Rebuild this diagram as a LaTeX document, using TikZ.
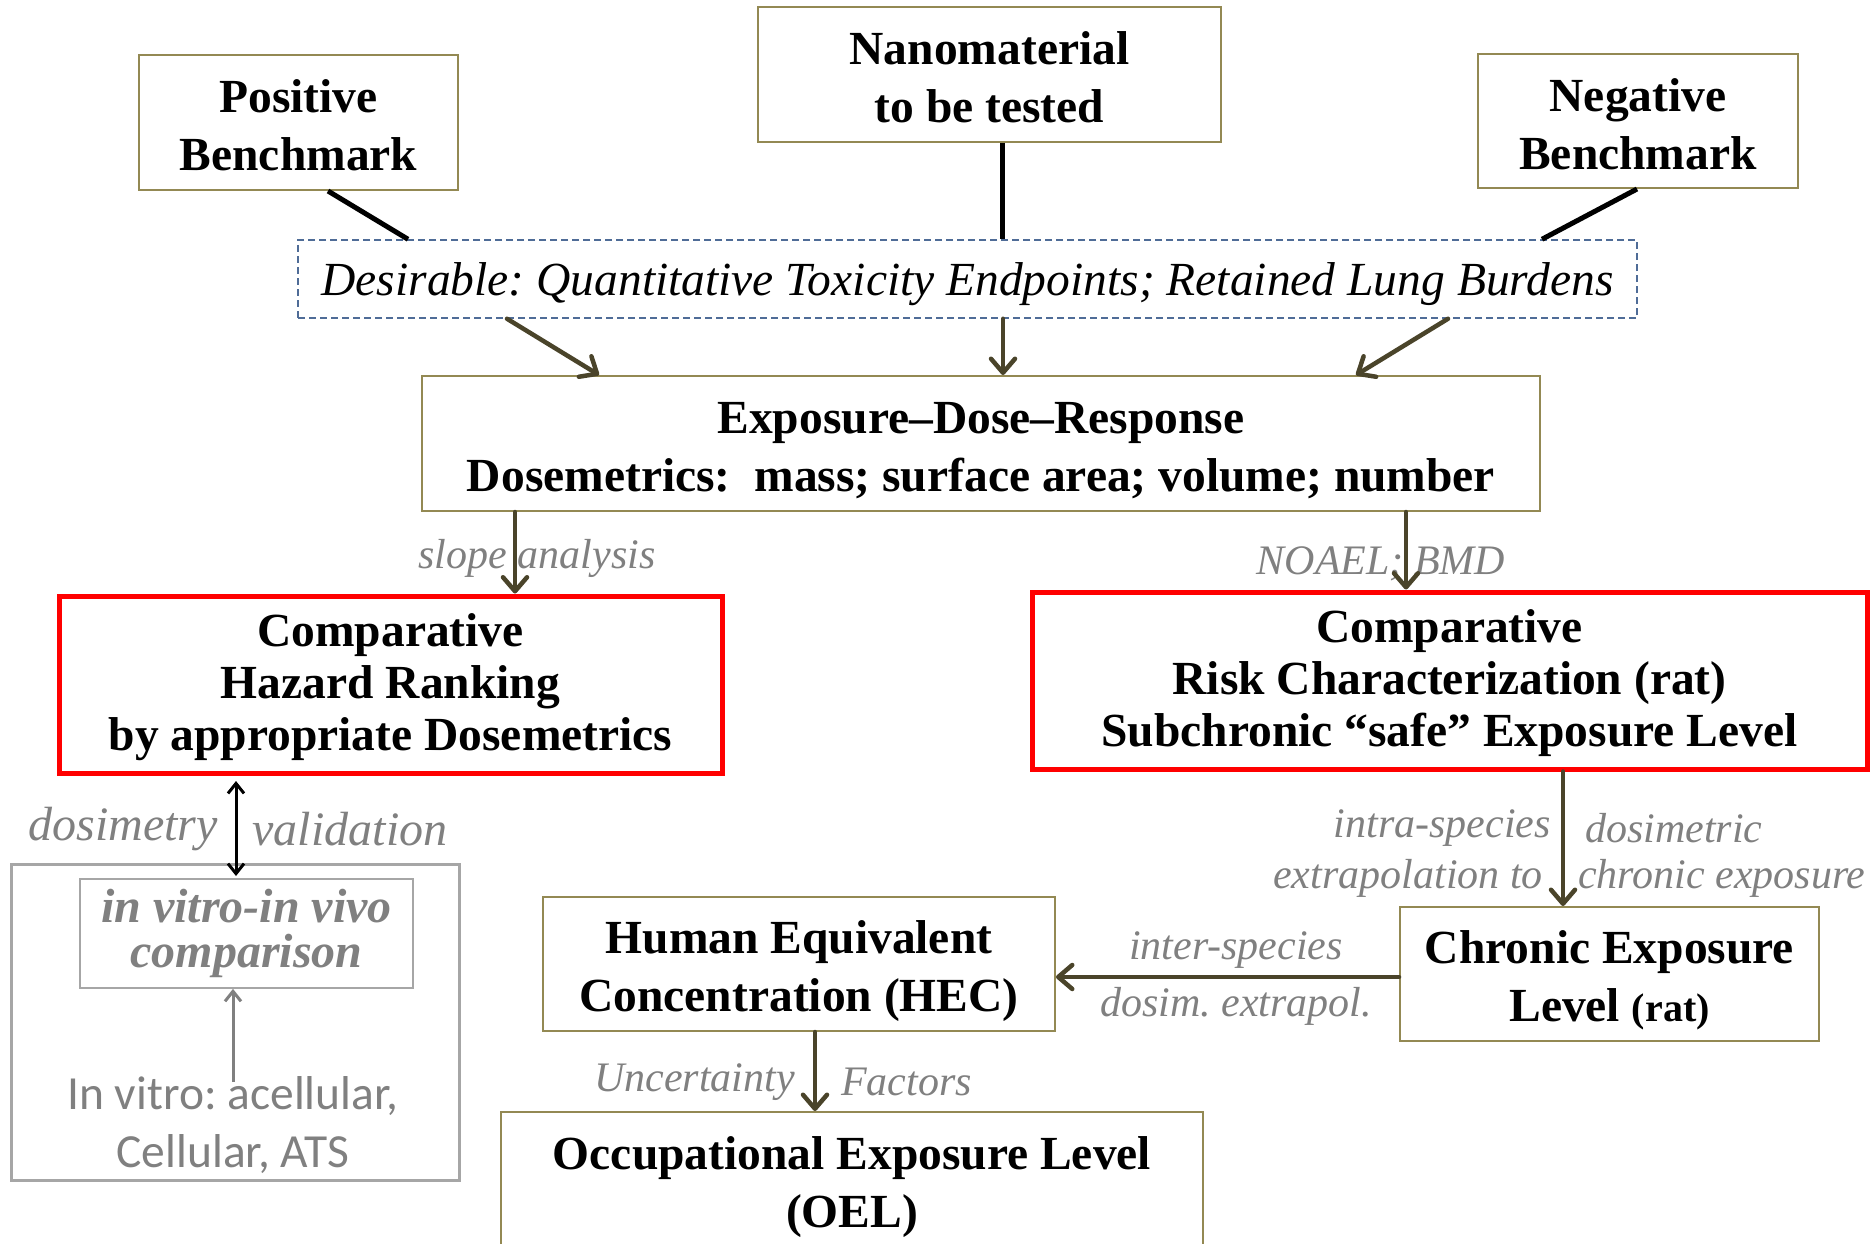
\documentclass[tikz,border=0pt]{standalone}
\usepackage{fontspec}
\setmainfont{Liberation Serif}
\newfontfamily\calfont{Carlito}
\usetikzlibrary{arrows.meta}
\definecolor{oliveb}{HTML}{938953}
\definecolor{arrc}{HTML}{4A442A}
\definecolor{labgray}{HTML}{808080}
\definecolor{boxgray}{HTML}{A6A6A6}
\definecolor{dashblue}{HTML}{4F6C97}
\newcommand{\dn}[1]{\rule{0pt}{#1pt}}
\frenchspacing
\begin{document}
\frenchspacing
\begin{tikzpicture}[x=1pt,y=-1pt,
  bx/.style={draw=oliveb, line width=2pt, align=center, inner sep=0pt, font=\fontsize{47.5}{58}\selectfont\bfseries},
  rbx/.style={draw=red, line width=5pt, align=center, inner sep=0pt, font=\fontsize{47.5}{52}\selectfont\bfseries},
  lbl/.style={text=labgray, font=\fontsize{42}{50}\selectfont\itshape, inner sep=0pt},
  bline/.style={draw=black, line width=5pt},
  myarr/.style={draw=arrc, line width=4.5pt, line cap=round, -{Straight Barb[length=14pt,width=24pt,round]}},
  dblarr/.style={draw=black, line width=3pt, {Straight Barb[length=10pt,width=16pt]}-{Straight Barb[length=10pt,width=16pt]}},
  grarr/.style={draw=labgray, line width=3pt, -{Straight Barb[length=10pt,width=16pt]}}
]
\fill[white] (0,0) rectangle (1876,1244);
\useasboundingbox (0,0) rectangle (1876,1244);

% top boxes
\node[bx, minimum width=319, minimum height=135] (pos) at (298.5,122.5) {\dn{39}Positive\\Benchmark};
\node[bx, minimum width=463, minimum height=135] (nano) at (989.5,74.5) {\dn{39}Nanomaterial\\to be tested};
\node[bx, minimum width=320, minimum height=134] (neg) at (1638,121) {\dn{39}Negative\\Benchmark};

\node[draw=dashblue, dashed, dash pattern=on 7pt off 4pt, line width=1.5pt, minimum width=1339, minimum height=78, inner sep=0pt,
  text depth=0pt, font=\fontsize{47.5}{54}\selectfont\itshape] (des) at (967.5,279)
  {Desirable: Quantitative Toxicity Endpoints; Retained Lung Burdens};

\node[bx, minimum width=1118, minimum height=135] (expo) at (981,443.5)
  {\dn{45}Exposure–Dose–Response\\Dosemetrics:\ \ mass; surface area; volume; number};

\node[rbx, minimum width=663, minimum height=177] (haz) at (390.5,684.5)
  {\dn{39}Comparative\\Hazard Ranking\\by appropriate Dosemetrics};
\node[rbx, minimum width=835, minimum height=177] (risk) at (1449.5,680.5)
  {\dn{39}Comparative\\Risk Characterization (rat)\\Subchronic “safe” Exposure Level};

% grey in vitro area
\node[draw=boxgray, line width=3pt, minimum width=448, minimum height=316, inner sep=0pt] (outer) at (235,1022) {};
\node[draw=boxgray, line width=1.8pt, minimum width=333, minimum height=109, inner sep=0pt, align=center,
  text=labgray, font=\fontsize{48}{45}\selectfont\bfseries\itshape] (inner) at (246.5,933.5) {in vitro-in vivo\\comparison};
\node[text=labgray, align=center, inner sep=0pt, font=\calfont\fontsize{47.5}{58}\selectfont] (invitro) at (233,1125)
  {In vitro: acellular,\\Cellular, ATS};

\node[bx, minimum width=512, minimum height=134] (hec) at (799,964)
  {\dn{47}Human Equivalent\\Concentration (HEC)};
\node[bx, minimum width=419, minimum height=134] (chr) at (1609.5,974)
  {\dn{45}Chronic Exposure\\Level {\fontsize{40}{58}\selectfont(rat)}};
\node[bx, minimum width=702, minimum height=150] (oel) at (852,1187)
  {Occupational Exposure Level\\(OEL)};

% labels
\node[lbl] (l1) at (537,558) {slope analysis};
\node[lbl] (l2) at (1381,564) {NOAEL; BMD};
\node[lbl, font=\fontsize{48}{50}\selectfont\itshape] (l3) at (123,829) {dosimetry};
\node[lbl, font=\fontsize{48}{50}\selectfont\itshape] (l4) at (350,829) {validation};
\node[lbl, anchor=east] (l5) at (1551,828) {intra-species};
\node[lbl, anchor=west] (l6) at (1585,828) {dosimetric};
\node[lbl, anchor=east] (l7) at (1543,878) {extrapolation to};
\node[lbl, anchor=west] (l8) at (1578,878) {chronic exposure};
\node[lbl] (l9) at (1236,950) {inter-species};
\node[lbl] (l10) at (1236,1006) {dosim. extrapol.};
\node[lbl, anchor=east] (l11) at (795,1082) {Uncertainty};
\node[lbl, anchor=west] (l12) at (841,1082) {Factors};

% black lines
\draw[bline] (pos.south -| 328,0) -- (des.north -| 408,0);
\draw[bline] (nano.south -| 1002,0) -- (des.north -| 1002,0);
\draw[bline] (neg.south -| 1637,0) -- (des.north -| 1542,0);

% arrows
\draw[myarr] (des.south -| 507,0) -- (expo.north -| 599,0);
\draw[myarr] (des.south -| 1003,0) -- (expo.north -| 1003,0);
\draw[myarr] (des.south -| 1448,0) -- (expo.north -| 1356,0);
\draw[myarr] (expo.south -| 515,0) -- (haz.north -| 515,0);
\draw[myarr] (expo.south -| 1406,0) -- (risk.north -| 1406,0);
\draw[myarr] (risk.south -| 1563,0) -- (chr.north -| 1563,0);
\draw[myarr] (chr.west |- 0,977) -- (hec.east |- 0,977);
\draw[myarr] (hec.south -| 815,0) -- (oel.north -| 815,0);

\coordinate (dtop) at (236,781);
\coordinate (dbot) at (236,876);
\draw[dblarr] (dtop) -- (dbot);
\coordinate (gs) at (233,1082);
\draw[grarr] (gs) -- (inner.south -| gs);
\end{tikzpicture}
\end{document}
